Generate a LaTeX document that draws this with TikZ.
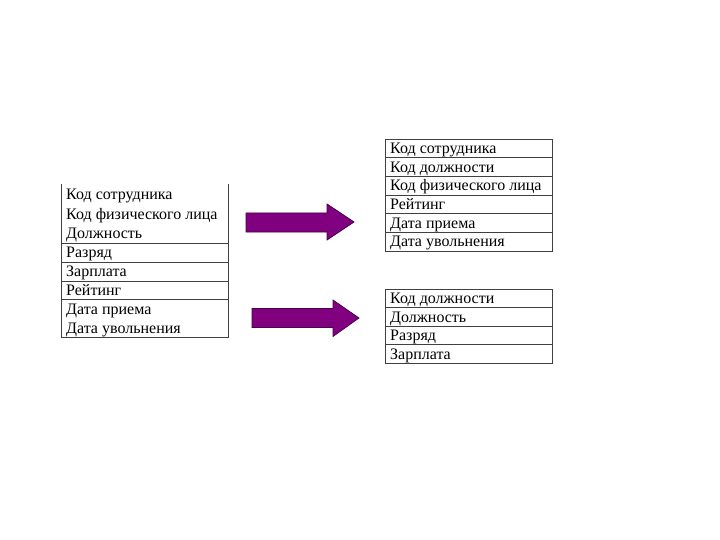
\documentclass[tikz,border=0pt]{standalone}
\usepackage{fontspec}
\setmainfont{Liberation Serif}
\begin{document}
\begin{tikzpicture}[x=1pt,y=-1pt,
  txt/.style={anchor=base west,inner sep=0pt,font=\fontsize{16}{18}\selectfont},
  grid/.style={draw=black!75,line width=0.9pt},
  blockarrow/.style={fill={rgb,255:red,128;green,0;blue,128},draw={rgb,255:red,70;green,0;blue,70},line width=0.7pt,line join=miter}]
\useasboundingbox (0,0) rectangle (720,540);
% left table
\draw[grid] (61,184) -- (61,337) -- (228,337) -- (228,184);
\foreach \y in {243,262,281,299} \draw[grid] (61,\y) -- (228,\y);
\node[txt] (l1) at (66,200) {Код сотрудника};
\node[txt] (l2) at (66,219) {Код физического лица};
\node[txt] (l3) at (66,238) {Должность};
\node[txt] (l4) at (66,257) {Разряд};
\node[txt] (l5) at (66,276) {Зарплата};
\node[txt] (l6) at (66,295) {Рейтинг};
\node[txt] (l7) at (66,314) {Дата приема};
\node[txt] (l8) at (66,333) {Дата увольнения};
% right top table
\draw[grid] (385,139) rectangle (552,251);
\foreach \y in {157.6,176.3,195,213.6,232.3} \draw[grid] (385,\y) -- (552,\y);
\node[txt] (a1) at (390,153.5) {Код сотрудника};
\node[txt] (a2) at (390,172.2) {Код должности};
\node[txt] (a3) at (390,190.9) {Код физического лица};
\node[txt] (a4) at (390,209.6) {Рейтинг};
\node[txt] (a5) at (390,228.3) {Дата приема};
\node[txt] (a6) at (390,247) {Дата увольнения};
% right bottom table
\draw[grid] (385,289) rectangle (552,363);
\foreach \y in {307.5,326,344.5} \draw[grid] (385,\y) -- (552,\y);
\node[txt] (b1) at (390,303.5) {Код должности};
\node[txt] (b2) at (390,322) {Должность};
\node[txt] (b3) at (390,340.5) {Разряд};
\node[txt] (b4) at (390,359) {Зарплата};
% arrows
\draw[blockarrow] (246,213) -- (327,213) -- (327,204) -- (354,222) -- (327,240) -- (327,232) -- (246,232) -- cycle;
\draw[blockarrow] (252,308.5) -- (333,308.5) -- (333,300) -- (359,318) -- (333,336.5) -- (333,327.5) -- (252,327.5) -- cycle;
\end{tikzpicture}
\end{document}
